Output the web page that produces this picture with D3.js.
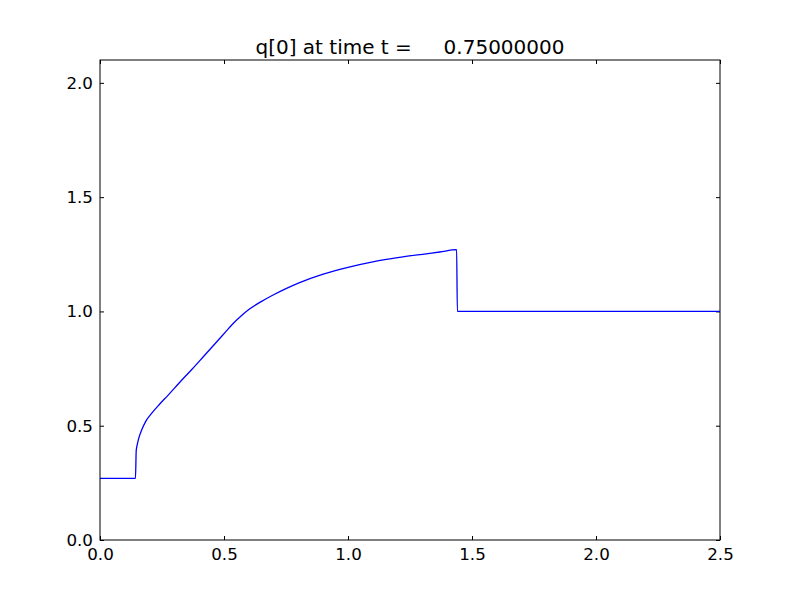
<!DOCTYPE html>
<html>
<head>
<meta charset="utf-8">
<script src="https://cdn.jsdelivr.net/npm/d3@7"></script>
<style>
  body { margin: 0; background: #fff; }
  text { font-family: "DejaVu Sans", sans-serif; }
</style>
</head>
<body>
<div id="chart"></div>
<script>
// values
var title = "q[0] at time t =     0.75000000";
var xs = [0, 0.143, 0.146, 0.148, 0.155, 0.168, 0.185, 0.208, 0.24, 0.275, 0.32, 0.37, 0.42, 0.47, 0.51, 0.535, 0.57, 0.6, 0.65, 0.7, 0.75, 0.8, 0.9, 1.0, 1.1, 1.2, 1.3, 1.37, 1.438, 1.441, 2.5];
var qs = [0.27, 0.27, 0.39, 0.405, 0.44, 0.481, 0.52, 0.554, 0.594, 0.634, 0.688, 0.746, 0.806, 0.866, 0.915, 0.945, 0.981, 1.008, 1.043, 1.073, 1.1, 1.124, 1.163, 1.193, 1.217, 1.235, 1.25, 1.26, 1.27, 1.0, 1.0];
var xTicks = [0, 0.5, 1.0, 1.5, 2.0, 2.5];
var yTicks = [0, 0.5, 1.0, 1.5, 2.0];

var margin = {top: 60, right: 80, bottom: 60, left: 100},
    width = 800 - margin.left - margin.right,
    height = 600 - margin.top - margin.bottom;

var x = d3.scaleLinear().domain([0, 2.5]).range([0, width]);
var y = d3.scaleLinear().domain([0, 2.1]).range([height, 0]);

var svg = d3.select("#chart").append("svg")
    .attr("width", 800)
    .attr("height", 600)
  .append("g")
    .attr("transform", "translate(" + margin.left + "," + margin.top + ")");

var fmt = d3.format(".1f");

// ticks pointing inward on all four sides (matplotlib classic look)
function styleAxis(g) {
  g.select(".domain").remove();
  g.selectAll(".tick line").attr("stroke", "#000").attr("stroke-width", 1);
  g.selectAll(".tick text").attr("fill", "#000").style("font-size", "16.7px");
}

svg.append("g")
    .attr("transform", "translate(0," + height + ")")
    .call(d3.axisBottom(x).tickValues(xTicks).tickFormat(fmt).tickSizeInner(-4).tickPadding(8))
    .call(styleAxis);

svg.append("g")
    .call(d3.axisTop(x).tickValues(xTicks).tickFormat("").tickSizeInner(-4))
    .call(styleAxis);

svg.append("g")
    .call(d3.axisLeft(y).tickValues(yTicks).tickFormat(fmt).tickSizeInner(-4).tickPadding(7))
    .call(styleAxis);

svg.append("g")
    .attr("transform", "translate(" + width + ",0)")
    .call(d3.axisRight(y).tickValues(yTicks).tickFormat("").tickSizeInner(-4))
    .call(styleAxis);

var line = d3.line()
    .curve(d3.curveMonotoneX)
    .x(function(d, i) { return x(xs[i]); })
    .y(function(d, i) { return y(qs[i]); });

svg.append("path")
    .datum(xs)
    .attr("d", line)
    .attr("fill", "none")
    .attr("stroke", "#0000ff")
    .attr("stroke-width", 1.3);

svg.append("rect")
    .attr("x", 0).attr("y", 0)
    .attr("width", width).attr("height", height)
    .attr("fill", "none")
    .attr("stroke", "#000")
    .attr("stroke-width", 1);

svg.append("text")
    .attr("x", width / 2)
    .attr("y", -6)
    .attr("text-anchor", "middle")
    .style("font-size", "20px")
    .style("white-space", "pre")
    .attr("xml:space", "preserve")
    .text(title);
</script>
</body>
</html>
